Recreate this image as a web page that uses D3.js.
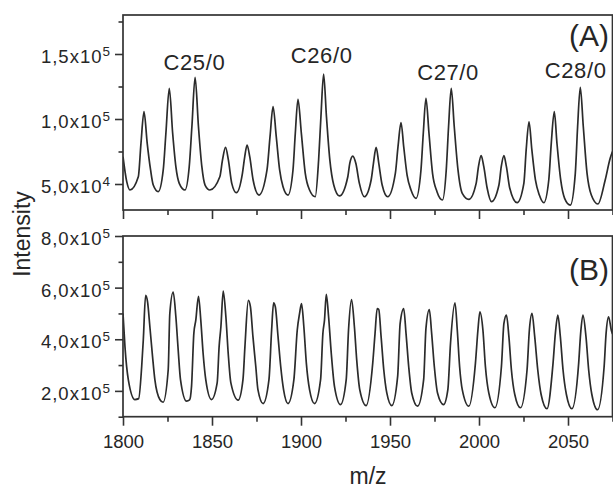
<!DOCTYPE html>
<html>
<head>
<meta charset="utf-8">
<script src="https://cdn.jsdelivr.net/npm/d3@7"></script>
<style>
  html, body { margin: 0; padding: 0; background: #fff; }
  svg { display: block; }
  text { font-family: "Liberation Sans", Arial, Helvetica, sans-serif; fill: #262626; }
</style>
</head>
<body>
<svg id="chart" width="613" height="488"></svg>
<script>
// ---------- data (m/z, intensity in units of 10^3) ----------
const spectrumA = [
  [1800,71],[1802.1,51.8],[1803.9,45.4],
  [1808.6,55.6],[1810.1,81.3],[1811.8,105.6],[1813.6,81.3],[1815.5,60.8],[1817,49.2],[1819.8,44.1],
  [1822.6,60.8],[1824.1,89],[1826.0,123.6],[1827.9,89],[1829.7,63.3],[1831.6,50.5],[1834.8,45.4],
  [1837.2,63.3],[1838.7,94],[1840.5,132],[1842.4,94],[1844.3,63.3],[1846.1,49.2],[1848.8,45.4],
  [1854.4,55.6],[1855.9,68.5],[1857.6,78.2],[1859.2,68.5],[1861.1,50.5],[1863.7,43.3],
  [1867.1,58.2],[1868.4,71],[1869.7,80],[1871.2,71],[1873.1,53.1],[1876.4,41.5],
  [1880.9,60.8],[1882.6,86.4],[1884.3,109.5],[1886.1,86.4],[1888,60.8],[1889.9,47.9],[1892.7,41.5],
  [1895.5,60.8],[1896.8,89],[1898.3,115.2],[1900.2,89],[1902.4,58.2],[1904.8,45.4],[1908,40.2],
  [1909.9,68.5],[1911.2,101.8],[1912.7,134.6],[1914.3,101.8],[1916.2,68.5],[1918.4,49.2],[1921.6,40.8],
  [1926.3,55.6],[1927.4,65.9],[1929.1,71.5],[1930.8,65.9],[1932.8,50.5],[1935.6,40.2],
  [1939.4,53.1],[1940.7,65.9],[1942.2,78.2],[1943.7,65.9],[1945.6,49.2],[1948.7,40.2],
  [1953,58.2],[1954.5,78.7],[1956.2,97.2],[1957.7,78.7],[1959.6,56.9],[1961.8,45.4],[1964.6,39],
  [1967.4,60.8],[1968.7,89],[1970.2,115.9],[1971.9,89],[1973.9,58.2],[1976.4,44.1],[1979.5,37.7],
  [1981.6,60.8],[1982.9,94],[1984.4,123.6],[1986.1,94],[1988.2,60.8],[1990.6,42.8],[1994.3,38.2],
  [1998.4,50.5],[1999.7,63.3],[2001.2,71.8],[2002.7,63.3],[2004.6,46.7],[2007,36.4],
  [2011.2,49.2],[2012.5,63.3],[2014,71.8],[2015.4,63.3],[2017.3,46.7],[2021.4,35.6],
  [2025.2,50.5],[2026.5,76.2],[2028.1,97.9],[2029.7,76.2],[2031.7,53.1],[2033.9,41.5],[2036.4,35.6],
  [2039.2,53.1],[2040.6,81.3],[2042.3,105.6],[2043.8,81.3],[2045.9,53.1],[2048.1,39],[2051.3,33.8],
  [2054.1,58.2],[2055.4,94],[2056.9,124.4],[2058.6,94],[2060.7,58.2],[2063.1,41.5],[2066.8,34.6],
  [2070.9,53.1],[2073.7,69.8],[2075,75]
];

const spectrumB = [
  [1800,500],[1801.1,371.5],[1803,243],[1806.7,166.5],[1808.8,170],
  [1810.5,294.6],[1811.4,397],[1812.7,570],[1813.8,544.6],[1815.1,448.5],[1816.6,333],[1817.9,243.5],[1820.7,166.5],[1822.5,156],
  [1825.4,282],[1826.3,500],[1828.2,583],[1829.7,487],[1831,359],[1832.3,243.5],[1835.7,160],
  [1837.4,165],[1838.5,217.7],[1839.8,423],[1840.9,474],[1842.4,566.5],[1843.7,474],[1845,346],[1846.5,243.5],[1849.7,166.5],
  [1852.9,230.8],[1854,371.5],[1855,448.5],[1856.3,587],[1857.8,487],[1859.1,346],[1860.6,230.8],[1864.7,164],
  [1867.4,243.5],[1868.5,371.5],[1870.4,551],[1871.6,525],[1873,410],[1874.6,294.6],[1875.8,205],[1878.7,151],
  [1882,243.5],[1883.5,435.8],[1884.6,540.7],[1885.6,525],[1887.1,410],[1888.6,294.6],[1890.2,205],[1892.7,151],
  [1896,243.5],[1897.9,435.8],[1899.2,500],[1900.3,538],[1901.6,448.5],[1903,307.7],[1904.8,205],[1907.6,151],
  [1911,243.5],[1912.3,423],[1913.2,474],[1914.2,574],[1915.5,487],[1917,346],[1918.8,217.7],[1922.2,147],
  [1925.4,243.5],[1926.7,435.8],[1928.4,554],[1930,448.5],[1931.3,320],[1933,205],[1936.6,143],
  [1940.3,307.7],[1941.6,423],[1942.8,519],[1943.7,515],[1945,410],[1946.5,282],[1948.2,192],[1951,143],
  [1954.3,256],[1955.7,461.5],[1957.7,519],[1959,423],[1960.5,294.6],[1962.2,192],[1965.5,140.8],
  [1968.9,243.5],[1970.2,442],[1972.1,515],[1973.4,423],[1974.9,294.6],[1976.7,192],[1980.1,147],
  [1982.5,205],[1984,384.6],[1986.5,540.7],[1987.8,435.8],[1989.1,294.6],[1990.6,205],[1994.3,140.8],
  [1998,307.7],[1999.4,435.8],[2000.5,506],[2002.2,435.8],[2003.6,294.6],[2005.5,192],[2008.9,134.6],
  [2012.6,294.6],[2014,461.5],[2015.4,493.5],[2016.8,410],[2018.2,282],[2020.1,186],[2023.3,134.6],
  [2027,282],[2028.3,435.8],[2029.8,500],[2031.3,410],[2033,282],[2034.9,186],[2038.2,130.8],
  [2041.6,307.7],[2042.9,423],[2044.3,493.5],[2045.7,410],[2047.2,282],[2049.1,186],[2052.2,130.8],
  [2056,307.7],[2057.1,423],[2058.4,493.5],[2060.1,410],[2061.6,282],[2063.4,186],[2066.6,127],
  [2070.3,294.6],[2071.4,423],[2072.8,487],[2074.3,436],[2075,420]
];

const xMajorTicks = [1800, 1850, 1900, 1950, 2000, 2050];
const xMinorTicks = [1825, 1875, 1925, 1975, 2025, 2075];
const yMajorTicksA = [50, 100, 150];
const yMinorTicksA = [75, 125, 175];
const yMajorTicksB = [200, 400, 600, 800];
const yMinorTicksB = [100, 300, 500, 700];

const peakLabels = ["C25/0", "C26/0", "C27/0", "C28/0"];
const peakLabelMz = [1840.1, 1911.6, 1982.6, 2054.3];
const peakLabelInt = [137.7, 142.7, 130, 131.2];

const panelTags = ["(A)", "(B)"];
const xTitle = "m/z";
const yTitle = "Intensity";

// ---------- layout ----------
const svg = d3.select("#chart");
const ink = "#333333";

const x = d3.scaleLinear().domain([1800, 2075]).range([123, 612.5]);
const yA = d3.scaleLinear().domain([30, 180]).range([210, 15]);
const yB = d3.scaleLinear().domain([100, 800]).range([416.7, 236]);

function sciLabel(sel, vThousands) {
  const v = vThousands * 1000;
  const exp = Math.floor(Math.log10(v));
  const mant = (v / Math.pow(10, exp)).toFixed(1).replace(".", ",");
  sel.text(null);
  sel.append("tspan").text(mant + "x10");
  sel.append("tspan").attr("dy", -7).style("font-size", "13.5px").text(exp);
}

function panel(y, data, yMajor, yMinor, showXLabels, tag, tagBaseline, id) {
  const g = svg.append("g");
  const [y1, y0] = y.range();   // y1 bottom, y0 top

  svg.append("clipPath").attr("id", id)
    .append("rect").attr("x", x.range()[0]).attr("y", y0)
    .attr("width", x.range()[1] - x.range()[0]).attr("height", y1 - y0);

  // spectrum
  const line = d3.line().x(d => x(d[0])).y(d => y(d[1])).curve(d3.curveMonotoneX);
  g.append("path").datum(data)
    .attr("clip-path", `url(#${id})`)
    .attr("d", line).attr("fill", "none")
    .attr("stroke", "#2b2b2b").attr("stroke-width", 1.7)
    .attr("stroke-linejoin", "round");

  // x axis (bottom)
  const xa = g.append("g").attr("transform", `translate(0,${y1})`)
    .call(d3.axisBottom(x).tickValues(xMajorTicks).tickSize(9).tickSizeOuter(0)
      .tickFormat(showXLabels ? d3.format("d") : () => ""));
  xa.append("g").call(d3.axisBottom(x).tickValues(xMinorTicks).tickSize(5).tickSizeOuter(0).tickFormat(() => ""));
  xa.selectAll(".domain").remove();
  xa.selectAll("line").attr("stroke", ink).attr("stroke-width", 1.6);
  xa.selectAll("text").attr("fill", "#262626")
    .style("font-size", "18.5px").attr("dy", null).attr("y", 31.5);

  // y axis (left)
  const ya = g.append("g").attr("transform", `translate(${x.range()[0]},0)`)
    .call(d3.axisLeft(y).tickValues(yMajor).tickSize(8).tickSizeOuter(0));
  ya.append("g").call(d3.axisLeft(y).tickValues(yMinor).tickSize(4.5).tickSizeOuter(0).tickFormat(() => ""));
  ya.selectAll(".domain").remove();
  ya.selectAll("line").attr("stroke", ink).attr("stroke-width", 1.6);
  ya.selectAll(".tick text")
    .attr("x", -12).attr("dy", null).attr("y", 8.5)
    .attr("fill", "#262626")
    .style("font-size", "18.5px").style("letter-spacing", "1px")
    .each(function(d) { if (yMajor.includes(d)) sciLabel(d3.select(this), d); });

  // frame
  g.append("rect")
    .attr("x", x.range()[0]).attr("y", y0)
    .attr("width", x.range()[1] - x.range()[0]).attr("height", y1 - y0)
    .attr("fill", "none").attr("stroke", ink).attr("stroke-width", 1.7);

  // panel tag
  g.append("text").attr("x", 609).attr("y", tagBaseline)
    .attr("text-anchor", "end").style("font-size", "30px").text(tag);
}

panel(yA, spectrumA, yMajorTicksA, yMinorTicksA, false, panelTags[0], 46, "clipA");
panel(yB, spectrumB, yMajorTicksB, yMinorTicksB, true, panelTags[1], 280, "clipB");

// peak annotations in panel A
svg.append("g").selectAll("text").data(peakLabels).join("text")
  .attr("x", (d, i) => x(peakLabelMz[i]))
  .attr("y", (d, i) => yA(peakLabelInt[i]))
  .attr("text-anchor", "middle")
  .style("font-size", "22px").style("letter-spacing", "0.6px")
  .text(d => d);

// axis titles
svg.append("text").attr("x", 368).attr("y", 484)
  .attr("text-anchor", "middle").style("font-size", "23px").text(xTitle);
svg.append("text")
  .attr("transform", "translate(30,234) rotate(-90)")
  .attr("text-anchor", "middle").style("font-size", "23px").text(yTitle);
</script>
</body>
</html>
